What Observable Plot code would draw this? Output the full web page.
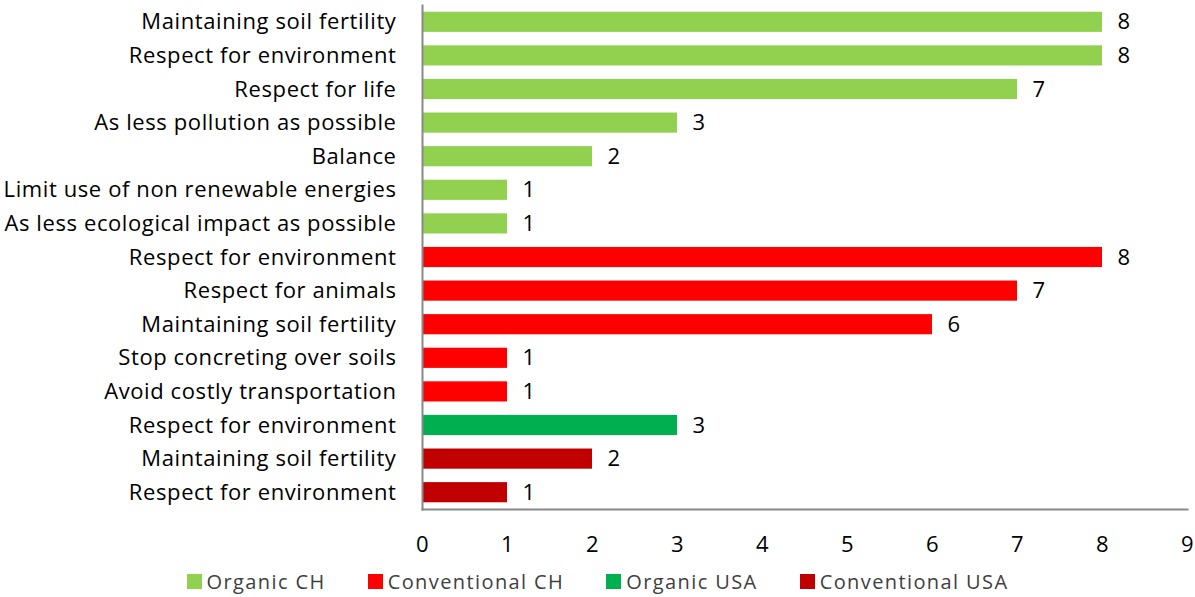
<!DOCTYPE html>
<html>
<head>
<meta charset="utf-8">
<script src="https://cdn.jsdelivr.net/npm/d3@7"></script>
<script src="https://cdn.jsdelivr.net/npm/@observablehq/plot@0.6"></script>
<style>
  body { margin: 0; background: #fff; font-family: "Open Sans", sans-serif; }
  #chart svg { display: block; }
  #legend { display: flex; justify-content: center; margin-top: 9px; }
  #legend .lg-swatches { font-family: "Open Sans", sans-serif; font-size: 20px; color: #404040; letter-spacing: 1.4px; margin: 0; }
  #legend .lg-swatches-wrap { min-height: 0; }
  #legend .lg-swatch { margin-right: 42px; }
  #legend .lg-swatch:last-child { margin-right: 0; }
  #legend .lg-swatch > svg { margin-right: 5px; }
</style>
</head>
<body>
<div id="chart"></div>
<div id="legend"></div>
<script>
// Reasons given for each group's practice, top to bottom
const labels = [
  "Maintaining soil fertility",
  "Respect for environment",
  "Respect for life",
  "As less pollution as possible",
  "Balance",
  "Limit use of non renewable energies",
  "As less ecological impact as possible",
  "Respect for environment",
  "Respect for animals",
  "Maintaining soil fertility",
  "Stop concreting over soils",
  "Avoid costly transportation",
  "Respect for environment",
  "Maintaining soil fertility",
  "Respect for environment"
];
const counts = [8, 8, 7, 3, 2, 1, 1, 8, 7, 6, 1, 1, 3, 2, 1];
const groups = [
  "Organic CH", "Organic CH", "Organic CH", "Organic CH", "Organic CH", "Organic CH", "Organic CH",
  "Conventional CH", "Conventional CH", "Conventional CH", "Conventional CH", "Conventional CH",
  "Organic USA",
  "Conventional USA", "Conventional USA"
];
const groupNames = ["Organic CH", "Conventional CH", "Organic USA", "Conventional USA"];
const groupColors = ["#92D050", "#FF0000", "#00B050", "#C00000"];
const xTicks = [0, 1, 2, 3, 4, 5, 6, 7, 8, 9];

const rows = labels.map((label, i) => ({i, label, value: counts[i], group: groups[i]}));

const color = {domain: groupNames, range: groupColors};

const chart = Plot.plot({
  width: 1195,
  height: 559,
  marginTop: 5,
  marginBottom: 50,
  marginLeft: 422,
  marginRight: 8,
  style: {fontFamily: "'Open Sans', sans-serif", fontSize: "22px", letterSpacing: "0.6px", color: "#000", background: "#fff"},
  x: {domain: [0, 9], label: null},
  y: {domain: d3.range(labels.length), paddingInner: 0.4, paddingOuter: 0.2, round: false, label: null},
  color,
  marks: [
    Plot.barX(rows, {x: "value", y: "i", fill: "group"}),
    Plot.text(rows, {x: "value", y: "i", text: d => String(d.value), dx: 15, textAnchor: "start", fontSize: 22, fill: "#000"}),
    Plot.axisY({tickSize: 0, tickPadding: 26, tickFormat: i => labels[i], fontSize: 22, fill: "#000", label: null}),
    Plot.axisX({ticks: xTicks, tickSize: 0, tickPadding: 27, tickFormat: d => String(d), fontSize: 22, fill: "#000", label: null}),
    Plot.frame({anchor: "left", stroke: "#888", strokeWidth: 2}),
    Plot.frame({anchor: "bottom", stroke: "#888", strokeWidth: 2})
  ]
});
document.getElementById("chart").append(chart);

const legend = Plot.legend({
  color,
  legend: "swatches",
  className: "lg",
  swatchSize: 15
});
document.getElementById("legend").append(legend);
</script>
</body>
</html>
